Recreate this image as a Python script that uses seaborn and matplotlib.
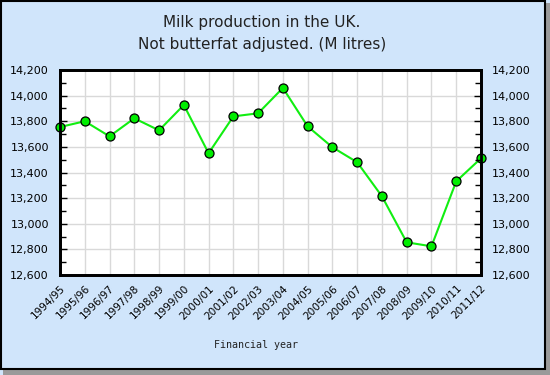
import pandas as pd
import matplotlib
matplotlib.use("Agg")
import matplotlib.pyplot as plt
import seaborn as sns
from matplotlib.patches import Rectangle
from matplotlib.ticker import MultipleLocator, FuncFormatter

years = ["1994/95", "1995/96", "1996/97", "1997/98", "1998/99", "1999/00",
         "2000/01", "2001/02", "2002/03", "2003/04", "2004/05", "2005/06",
         "2006/07", "2007/08", "2008/09", "2009/10", "2010/11", "2011/12"]
milk = [13755, 13800, 13682, 13823, 13729, 13927, 13550, 13838, 13862,
        14060, 13760, 13597, 13480, 13214, 12855, 12824, 13331, 13511]

y_min, y_max = 12600, 14200

df = pd.DataFrame({"year": years, "milk": milk})
df["pos"] = range(len(df))

sns.set_style("white", {"axes.edgecolor": "black", "xtick.color": "black",
                        "ytick.color": "black", "text.color": "#222222"})
plt.rcParams["font.family"] = ["DejaVu Sans"]

bg = "#d0e5fb"
fig = plt.figure(figsize=(5.5, 3.75), dpi=100)
fig.patch.set_facecolor(bg)

# shadow and black frame round the whole picture
fig.patches.append(Rectangle((3 / 550, 0), 547 / 550, 372 / 375, transform=fig.transFigure,
                             facecolor="#9a9a9a", edgecolor="none", zorder=-3))
fig.patches.append(Rectangle((0.5 / 550, 6 / 375), 544 / 550, 368.5 / 375, transform=fig.transFigure,
                             facecolor=bg, edgecolor="black", linewidth=1.5, zorder=-2))

ax = fig.add_axes([60 / 550, 100 / 375, 421 / 550, 205 / 375])
ax.set_facecolor("white")

sns.lineplot(data=df, x="pos", y="milk", ax=ax, color="#11ee11", linewidth=1.5,
             marker="o", markersize=6.5, markerfacecolor="#00ee00",
             markeredgecolor="black", markeredgewidth=0.9, zorder=5, clip_on=False)

fmt = FuncFormatter(lambda v, p: f"{int(v):,}")

ax.set_xlim(0, len(years) - 1)
ax.set_ylim(y_min, y_max)
ax.set_xticks(df["pos"])
ax.set_xticklabels(years, rotation=45, ha="right", rotation_mode="anchor", fontsize=7.6)
ax.yaxis.set_major_locator(MultipleLocator(200))
ax.yaxis.set_minor_locator(MultipleLocator(100))
ax.yaxis.set_major_formatter(fmt)
ax.grid(True, which="major", color="#d9d9d9", linewidth=1)
ax.set_axisbelow(True)
ax.tick_params(axis="y", which="both", direction="in", labelsize=8, pad=8)
ax.tick_params(axis="y", which="major", length=5, width=1)
ax.tick_params(axis="y", which="minor", length=4, width=1)
ax.tick_params(axis="x", direction="in", length=5, width=1, pad=6)
for s in ax.spines.values():
    s.set_linewidth(2)

ax2 = ax.twinx()
ax2.set_ylim(y_min, y_max)
ax2.yaxis.set_major_locator(MultipleLocator(200))
ax2.yaxis.set_minor_locator(MultipleLocator(100))
ax2.yaxis.set_major_formatter(fmt)
ax2.tick_params(axis="y", which="both", direction="in", labelsize=8, pad=8)
ax2.tick_params(axis="y", which="major", length=5, width=1)
ax2.tick_params(axis="y", which="minor", length=4, width=1)
for s in ax2.spines.values():
    s.set_linewidth(2)

ax.set_xlabel("")
ax.set_ylabel("")
fig.text(256 / 550, 1 - 345 / 375, "Financial year", ha="center", va="center",
         fontsize=7.2, family="DejaVu Sans Mono")

fig.text(262 / 550, 1 - 22 / 375, "Milk production in the UK.", ha="center", va="center",
         fontsize=11)
fig.text(262 / 550, 1 - 45 / 375, "Not butterfat adjusted. (M litres)", ha="center", va="center",
         fontsize=11)

fig.savefig("out.png", dpi=100, facecolor=fig.get_facecolor())
